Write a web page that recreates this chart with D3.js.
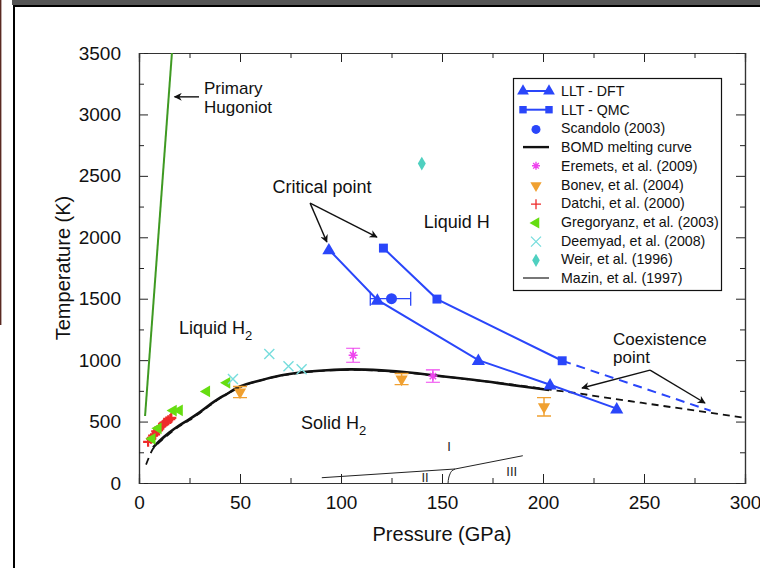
<!DOCTYPE html>
<html><head><meta charset="utf-8">
<script src="https://cdn.jsdelivr.net/npm/d3@7"></script>
<style>
html,body{margin:0;padding:0;background:#fff;}
svg{display:block;font-family:"Liberation Sans",Arial,Helvetica,sans-serif;}
</style></head>
<body>
<svg id="c" width="760" height="568"></svg>
<script>
// ---------- DATA ----------
const xTicks = [0, 50, 100, 150, 200, 250, 300];
const yTicks = [0, 500, 1000, 1500, 2000, 2500, 3000, 3500];

const hugoniotP = [3, 16.3];
const hugoniotT = [545, 3500];

const bomdP = [7, 10, 15, 20, 25, 30, 37, 43, 50, 60, 70, 80, 93, 105, 120, 135, 145, 160, 178, 190, 203];
const bomdT = [290, 340, 410, 470, 520, 575, 660, 720, 785, 835, 875, 900, 918, 925, 917, 897, 878, 850, 813, 785, 757];

const bomdDashP = [3.5, 7, 10, 15, 20, 25, 30, 40, 50, 60, 70, 80, 93, 105, 120, 135, 150, 170, 190, 200, 215, 230, 250, 270, 300];
const bomdDashT = [150, 280, 330, 400, 462, 512, 568, 690, 780, 835, 873, 898, 915, 922, 912, 893, 868, 830, 790, 767, 735, 698, 650, 602, 530];

const dftP = [94, 118, 168, 203.5, 236.5];
const dftT = [1900, 1490, 1000, 800, 605];

const qmcP = [121, 147.5, 209.5];
const qmcT = [1912, 1497, 995];
const qmcDashP = [209.5, 283];
const qmcDashT = [995, 588];

const scandoloP = [125];
const scandoloT = [1500];
const scandoloErrLo = [10.5];
const scandoloErrHi = [9.5];

const eremetsP = [106, 145.5];
const eremetsT = [1040, 870];
const eremetsErr = [57, 50];

const bonevP = [50, 130, 200.5];
const bonevT = [740, 846, 620];
const bonevErr = [45, 45, 75];

const datchiP = [4.5, 6, 7, 8, 8.5, 9.5, 10, 11, 12, 12.5, 13.5, 14.5, 15.5, 16];
const datchiT = [335, 360, 385, 395, 420, 430, 450, 460, 475, 490, 500, 510, 520, 530];

const gregP = [6.5, 9.5, 17, 20, 33.5, 43.5];
const gregT = [360, 445, 590, 592, 745, 815];

const deemyadP = [46.5, 64.5, 74, 80.5];
const deemyadT = [846, 1050, 950, 925];

const weirP = [140];
const weirT = [2600];

const mazinP = [90.5, 156.5, 190];
const mazinT = [43, 114, 222];
const mazinCurveP = [153, 153.3, 154, 155, 156.5];
const mazinCurveT = [0, 40, 75, 100, 114];

const legendLabels = ["LLT - DFT", "LLT - QMC", "Scandolo (2003)", "BOMD melting curve",
  "Eremets, et al. (2009)", "Bonev, et al. (2004)", "Datchi, et al. (2000)",
  "Gregoryanz, et al. (2003)", "Deemyad, et al. (2008)", "Weir, et al. (1996)", "Mazin, et al. (1997)"];

// ---------- STYLE ----------
const BLUE = "#2a46fa", GREEN_LINE = "#3f9a22", LIME = "#66dd11", CYAN = "#77dddd",
      TEAL = "#4fd0c0", ORANGE = "#f0a030", MAGENTA = "#ee44ee", RED = "#ee2a2a";

const svg = d3.select("#c");
const x = d3.scaleLinear().domain([0, 300]).range([139, 745]);
const y = d3.scaleLinear().domain([0, 3500]).range([483, 53]);
const zip = (a, b) => a.map((v, i) => [v, b[i]]);
const line = d3.line().x(d => x(d[0])).y(d => y(d[1]));
const curve = d3.line().x(d => x(d[0])).y(d => y(d[1])).curve(d3.curveMonotoneX);

// outer frame of the picture
svg.append("rect").attr("x", 12).attr("y", 0).attr("width", 748).attr("height", 5).attr("fill", "#555");
svg.append("line").attr("x1", 13).attr("x2", 760).attr("y1", 6).attr("y2", 6).attr("stroke", "#000").attr("stroke-width", 2);
svg.append("line").attr("x1", 14).attr("x2", 14).attr("y1", 5).attr("y2", 568).attr("stroke", "#000").attr("stroke-width", 2);
svg.append("line").attr("x1", 0.7).attr("x2", 0.7).attr("y1", 0).attr("y2", 325).attr("stroke", "#5a2a22").attr("stroke-width", 1.4);

// defs arrow
const defs = svg.append("defs");
defs.append("marker").attr("id", "arr").attr("viewBox", "0 0 10 10").attr("refX", 9).attr("refY", 5)
  .attr("markerWidth", 10).attr("markerHeight", 8).attr("markerUnits", "userSpaceOnUse").attr("orient", "auto")
  .append("path").attr("d", "M0,0 L10,5 L0,10 L3,5 Z").attr("fill", "#111");

// axes
const xMinor = d3.range(0, 301, 25), yMinor = d3.range(0, 3501, 250);
const axG = svg.append("g");
axG.append("g").attr("transform", "translate(0,483)")
  .call(d3.axisBottom(x).tickValues(xTicks).tickSize(-9).tickPadding(13).tickFormat(d3.format("d")));
axG.append("g").attr("transform", "translate(0,483)")
  .call(d3.axisBottom(x).tickValues(xMinor.filter(v => v % 50)).tickSize(-5).tickFormat(""));
axG.append("g").attr("transform", "translate(0,53)")
  .call(d3.axisTop(x).tickValues(xTicks).tickSize(-9).tickFormat(""));
axG.append("g").attr("transform", "translate(0,53)")
  .call(d3.axisTop(x).tickValues(xMinor.filter(v => v % 50)).tickSize(-5).tickFormat(""));
axG.append("g").attr("transform", "translate(139,0)")
  .call(d3.axisLeft(y).tickValues(yTicks).tickSize(-9).tickPadding(18).tickFormat(d3.format("d")));
axG.append("g").attr("transform", "translate(139,0)")
  .call(d3.axisLeft(y).tickValues(yMinor.filter(v => v % 500)).tickSize(-5).tickFormat(""));
axG.append("g").attr("transform", "translate(745,0)")
  .call(d3.axisRight(y).tickValues(yTicks).tickSize(-9).tickFormat(""));
axG.append("g").attr("transform", "translate(745,0)")
  .call(d3.axisRight(y).tickValues(yMinor.filter(v => v % 500)).tickSize(-5).tickFormat(""));
axG.selectAll(".domain").attr("stroke", "#333").attr("stroke-width", 1.2);
axG.selectAll(".tick line").attr("stroke", "#222").attr("stroke-width", 1);
axG.selectAll(".tick text").attr("font-size", 19).attr("fill", "#111")
  .attr("font-family", "'Liberation Sans',Arial,sans-serif");

// axis titles
svg.append("text").attr("x", 442).attr("y", 541).attr("text-anchor", "middle").attr("font-size", 20).attr("fill", "#111").text("Pressure (GPa)");
svg.append("text").attr("transform", "translate(70,268) rotate(-90)").attr("text-anchor", "middle").attr("font-size", 20).attr("fill", "#111").text("Temperature (K)");

const plot = svg.append("g");

// Primary Hugoniot
plot.append("path").attr("d", line(zip(hugoniotP, hugoniotT))).attr("fill", "none").attr("stroke", GREEN_LINE).attr("stroke-width", 2);

// Mazin phase lines
plot.append("path").attr("d", line(zip(mazinP, mazinT))).attr("fill", "none").attr("stroke", "#222").attr("stroke-width", 1);
plot.append("path").attr("d", d3.line().x(d => x(d[0])).y(d => y(d[1])).curve(d3.curveMonotoneY)(zip(mazinCurveP, mazinCurveT)))
  .attr("fill", "none").attr("stroke", "#222").attr("stroke-width", 1);

// BOMD
plot.append("path").attr("d", curve(zip(bomdDashP, bomdDashT))).attr("fill", "none").attr("stroke", "#111").attr("stroke-width", 1.8).attr("stroke-dasharray", "7,5");
plot.append("path").attr("d", curve(zip(bomdP, bomdT))).attr("fill", "none").attr("stroke", "#111").attr("stroke-width", 2.6);

// Datchi crosses
const datchi = zip(datchiP, datchiT);
plot.selectAll(".datchi").data(datchi).enter().append("path")
  .attr("d", d => `M${x(d[0]) - 5},${y(d[1])}h10M${x(d[0])},${y(d[1]) - 5}v10`)
  .attr("stroke", RED).attr("stroke-width", 2.2);

// Gregoryanz left triangles
plot.selectAll(".greg").data(zip(gregP, gregT)).enter().append("path")
  .attr("d", d3.symbol(d3.symbolTriangle, 60))
  .attr("transform", d => `translate(${x(d[0])},${y(d[1])}) rotate(-90)`).attr("fill", LIME);

// Deemyad X
plot.selectAll(".dee").data(zip(deemyadP, deemyadT)).enter().append("path")
  .attr("d", d => `M${x(d[0]) - 5},${y(d[1]) - 5}l10,10M${x(d[0]) - 5},${y(d[1]) + 5}l10,-10`)
  .attr("stroke", CYAN).attr("stroke-width", 1.4);

// Weir diamond
plot.selectAll(".weir").data(zip(weirP, weirT)).enter().append("path")
  .attr("d", d3.symbol(d3.symbolDiamond, 55))
  .attr("transform", d => `translate(${x(d[0])},${y(d[1])})`).attr("fill", TEAL);

// Bonev down triangles with error bars
const bonev = bonevP.map((p, i) => ({p, t: bonevT[i], e: bonevErr[i]}));
plot.selectAll(".bonevE").data(bonev).enter().append("path")
  .attr("d", d => `M${x(d.p)},${y(d.t - d.e)}V${y(d.t + d.e)}M${x(d.p) - 7},${y(d.t - d.e)}h14M${x(d.p) - 7},${y(d.t + d.e)}h14`)
  .attr("stroke", ORANGE).attr("stroke-width", 1.4).attr("fill", "none");
plot.selectAll(".bonev").data(bonev).enter().append("path")
  .attr("d", d3.symbol(d3.symbolTriangle, 65))
  .attr("transform", d => `translate(${x(d.p)},${y(d.t)}) rotate(180)`).attr("fill", ORANGE);

// Eremets asterisks with error bars
const erem = eremetsP.map((p, i) => ({p, t: eremetsT[i], e: eremetsErr[i]}));
plot.selectAll(".eremE").data(erem).enter().append("path")
  .attr("d", d => `M${x(d.p)},${y(d.t - d.e)}V${y(d.t + d.e)}M${x(d.p) - 7},${y(d.t - d.e)}h14M${x(d.p) - 7},${y(d.t + d.e)}h14`)
  .attr("stroke", MAGENTA).attr("stroke-width", 1.2).attr("fill", "none");
plot.selectAll(".erem").data(erem).enter().append("path")
  .attr("d", d => {
    const cx = x(d.p), cy = y(d.t), r = 4.5;
    let s = "";
    for (let k = 0; k < 4; k++) { const a = k * Math.PI / 4; s += `M${cx - r * Math.cos(a)},${cy - r * Math.sin(a)}L${cx + r * Math.cos(a)},${cy + r * Math.sin(a)}`; }
    return s;
  }).attr("stroke", MAGENTA).attr("stroke-width", 1.5);

// LLT-DFT
plot.append("path").attr("d", line(zip(dftP, dftT))).attr("fill", "none").attr("stroke", BLUE).attr("stroke-width", 2);
plot.selectAll(".dft").data(zip(dftP, dftT)).enter().append("path")
  .attr("d", d3.symbol(d3.symbolTriangle, 75)).attr("transform", d => `translate(${x(d[0])},${y(d[1]) + 1})`).attr("fill", BLUE);

// LLT-QMC
plot.append("path").attr("d", line(zip(qmcP, qmcT))).attr("fill", "none").attr("stroke", BLUE).attr("stroke-width", 2);
plot.append("path").attr("d", line(zip(qmcDashP, qmcDashT))).attr("fill", "none").attr("stroke", BLUE).attr("stroke-width", 2).attr("stroke-dasharray", "9,6");
plot.selectAll(".qmc").data(zip(qmcP, qmcT)).enter().append("path")
  .attr("d", d3.symbol(d3.symbolSquare, 80)).attr("transform", d => `translate(${x(d[0])},${y(d[1])})`).attr("fill", BLUE);

// Scandolo
const scand = scandoloP.map((p, i) => ({p, t: scandoloT[i], lo: scandoloErrLo[i], hi: scandoloErrHi[i]}));
plot.selectAll(".scE").data(scand).enter().append("path")
  .attr("d", d => `M${x(d.p - d.lo)},${y(d.t)}H${x(d.p + d.hi)}M${x(d.p - d.lo)},${y(d.t) - 7}v14M${x(d.p + d.hi)},${y(d.t) - 7}v14`)
  .attr("stroke", BLUE).attr("stroke-width", 1.3).attr("fill", "none");
plot.selectAll(".sc").data(scand).enter().append("circle")
  .attr("cx", d => x(d.p)).attr("cy", d => y(d.t)).attr("r", 5.5).attr("fill", BLUE);

// ---------- Annotations ----------
const ann = svg.append("g").attr("fill", "#111").attr("font-size", 18);
function arrow(p1, t1, p2, t2) {
  svg.append("line").attr("x1", x(p1)).attr("y1", y(t1)).attr("x2", x(p2)).attr("y2", y(t2))
    .attr("stroke", "#111").attr("stroke-width", 1.4).attr("marker-end", "url(#arr)");
}
ann.append("text").attr("x", x(32.2)).attr("y", y(3165)).attr("font-size", 17).text("Primary");
ann.append("text").attr("x", x(32.2)).attr("y", y(3015)).attr("font-size", 17).text("Hugoniot");
arrow(29.7, 3143, 17.6, 3143);

ann.append("text").attr("x", x(90.6)).attr("y", y(2360)).attr("text-anchor", "middle").text("Critical point");
arrow(84.7, 2278, 93, 1961);
arrow(84.7, 2278, 117.8, 2002);

ann.append("text").attr("x", x(234.7)).attr("y", y(1125)).attr("font-size", 17).text("Coexistence");
ann.append("text").attr("x", x(234.7)).attr("y", y(978)).attr("font-size", 17).text("point");
arrow(253, 919, 219.3, 773);
arrow(253, 919, 280.2, 651);

ann.append("text").attr("x", x(141)).attr("y", y(2077)).text("Liquid H");
const lh2 = ann.append("text").attr("x", x(19.8)).attr("y", y(1212));
lh2.append("tspan").text("Liquid H");
lh2.append("tspan").attr("dy", 6).attr("font-size", 13).text("2");
const sh2 = ann.append("text").attr("x", x(80.2)).attr("y", y(439));
sh2.append("tspan").text("Solid H");
sh2.append("tspan").attr("dy", 6).attr("font-size", 13).text("2");

const rn = svg.append("g").attr("fill", "#222").attr("font-size", 13).attr("text-anchor", "middle");
rn.append("text").attr("x", x(153.5)).attr("y", y(260)).text("I");
rn.append("text").attr("x", x(141.6)).attr("y", y(10)).text("II");
rn.append("text").attr("x", x(184.5)).attr("y", y(60)).text("III");

// ---------- Legend ----------
const lg = svg.append("g");
lg.append("rect").attr("x", 513.5).attr("y", 78.5).attr("width", 208).attr("height", 212)
  .attr("fill", "#fff").attr("stroke", "#111").attr("stroke-width", 1.2);
const ly = i => 91 + i * 18.7;
const sx = 536;
legendLabels.forEach((t, i) => {
  lg.append("text").attr("x", 561).attr("y", ly(i) + 5).attr("font-size", 14.2).attr("fill", "#111").text(t);
});
// 0 DFT
lg.append("line").attr("x1", 520).attr("x2", 552).attr("y1", ly(0)).attr("y2", ly(0)).attr("stroke", BLUE).attr("stroke-width", 2);
[523, 549].forEach(px => lg.append("path").attr("d", d3.symbol(d3.symbolTriangle, 60)).attr("transform", `translate(${px},${ly(0)})`).attr("fill", BLUE));
// 1 QMC
lg.append("line").attr("x1", 520).attr("x2", 552).attr("y1", ly(1)).attr("y2", ly(1)).attr("stroke", BLUE).attr("stroke-width", 2);
[523, 549].forEach(px => lg.append("path").attr("d", d3.symbol(d3.symbolSquare, 55)).attr("transform", `translate(${px},${ly(1)})`).attr("fill", BLUE));
// 2 Scandolo
lg.append("circle").attr("cx", sx).attr("cy", ly(2) + 1).attr("r", 4.5).attr("fill", BLUE);
// 3 BOMD
lg.append("line").attr("x1", 523).attr("x2", 549).attr("y1", ly(3)).attr("y2", ly(3)).attr("stroke", "#111").attr("stroke-width", 2.4);
// 4 Eremets
(function () {
  const cx = sx, cy = ly(4), r = 4; let s = "";
  for (let k = 0; k < 4; k++) { const a = k * Math.PI / 4; s += `M${cx - r * Math.cos(a)},${cy - r * Math.sin(a)}L${cx + r * Math.cos(a)},${cy + r * Math.sin(a)}`; }
  lg.append("path").attr("d", s).attr("stroke", MAGENTA).attr("stroke-width", 1.4);
})();
// 5 Bonev
lg.append("path").attr("d", d3.symbol(d3.symbolTriangle, 55)).attr("transform", `translate(${sx},${ly(5) + 1}) rotate(180)`).attr("fill", ORANGE);
// 6 Datchi
lg.append("path").attr("d", `M${sx - 5},${ly(6) + 1}h10M${sx},${ly(6) - 4}v10`).attr("stroke", RED).attr("stroke-width", 1.3);
// 7 Greg
lg.append("path").attr("d", d3.symbol(d3.symbolTriangle, 55)).attr("transform", `translate(${sx},${ly(7) + 1}) rotate(-90)`).attr("fill", LIME);
// 8 Deemyad
lg.append("path").attr("d", `M${sx - 5},${ly(8) - 4}l10,10M${sx - 5},${ly(8) + 6}l10,-10`).attr("stroke", CYAN).attr("stroke-width", 1.3);
// 9 Weir
lg.append("path").attr("d", d3.symbol(d3.symbolDiamond, 50)).attr("transform", `translate(${sx},${ly(9) + 1})`).attr("fill", TEAL);
// 10 Mazin
lg.append("line").attr("x1", 523).attr("x2", 549).attr("y1", ly(10)).attr("y2", ly(10)).attr("stroke", "#555").attr("stroke-width", 1.6);
</script>
</body></html>
